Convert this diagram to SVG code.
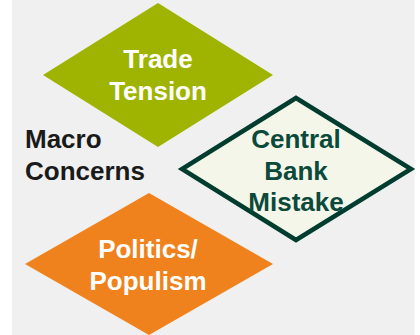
<svg xmlns="http://www.w3.org/2000/svg" width="420" height="335" viewBox="0 0 420 335">
<style>
text{font-family:"Liberation Sans",Arial,sans-serif;font-weight:bold;font-size:26px;text-anchor:middle}
.w{fill:#ffffff}
.g{fill:#0b4a3a}
.k{fill:#1a1a1a;text-anchor:start}
</style>
<rect x="0" y="0" width="420" height="335" fill="#ffffff"/>
<rect x="12" y="0" width="402.5" height="335" fill="#f0f0f0"/>
<g id="trade">
<polygon points="158,3 273,75 158,147 43,75" fill="#9fb400"/>
<text class="w" x="158" y="68">Trade</text>
<text class="w" x="158" y="100">Tension</text>
</g>
<g id="macro">
<text class="k" x="25" y="148">Macro</text>
<text class="k" x="25" y="180">Concerns</text>
</g>
<g id="central">
<polygon points="296,98 411,169 296,240 182,169" fill="#f4f6ea" stroke="#003d2e" stroke-width="4.5" stroke-linejoin="miter"/>
<text class="g" x="296" y="148">Central</text>
<text class="g" x="296" y="180">Bank</text>
<text class="g" x="296" y="211">Mistake</text>
</g>
<g id="politics">
<polygon points="149,193 273,264 149,335 25,264" fill="#f0821e"/>
<text class="w" x="148" y="258">Politics/</text>
<text class="w" x="148" y="290">Populism</text>
</g>
<g id="connectors"/>
</svg>
